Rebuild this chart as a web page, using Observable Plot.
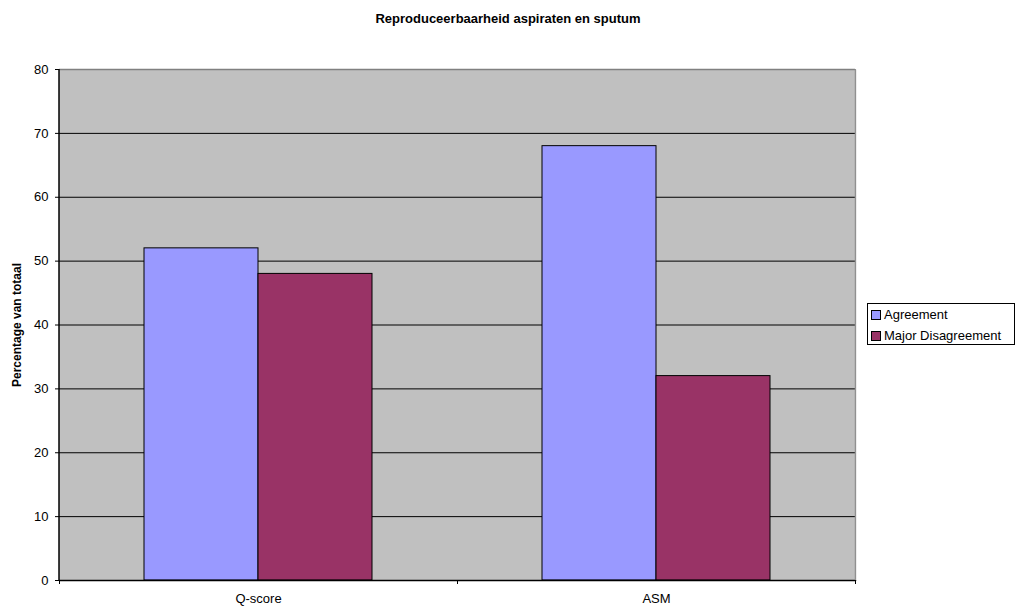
<!DOCTYPE html>
<html>
<head>
<meta charset="utf-8">
<script src="https://cdn.jsdelivr.net/npm/d3@7"></script>
<script src="https://cdn.jsdelivr.net/npm/@observablehq/plot@0.6"></script>
<style>
  body { margin: 0; background: #fff; font-family: "Liberation Sans", Arial, sans-serif; }
  #wrap { position: relative; width: 1016px; height: 606px; }
  #wrap svg { position: absolute; left: 0; top: 0; }
  #title { position: absolute; left: 0; width: 1016px; top: 11px; text-align: center; font-weight: bold; font-size: 13px; color: #000; }
  #ylabel { position: absolute; left: 17px; top: 325px; transform: translate(-50%, -50%) rotate(-90deg); font-weight: bold; font-size: 12px; white-space: nowrap; color: #000; }
  #legend { position: absolute; left: 867px; top: 303px; width: 146px; height: 40px; border: 1px solid #000; background: #fff; font-size: 13px; }
  #legend .item { position: absolute; left: 3px; height: 16px; line-height: 16px; white-space: nowrap; }
  #legend .sw { display: inline-block; width: 8px; height: 8px; border: 1px solid #000; margin-right: 3px; vertical-align: -1px; }
</style>
</head>
<body>
<div id="wrap">
  <div id="title"></div>
  <div id="ylabel"></div>
  <div id="legend"></div>
</div>
<script>
const titleText = "Reproduceerbaarheid aspiraten en sputum";
const yLabelText = "Percentage van totaal";
const categories = ["Q-score", "ASM"];
const seriesNames = ["Agreement", "Major Disagreement"];
const agreement = [52, 68];
const majorDisagreement = [48, 32];
const yTicks = [0, 10, 20, 30, 40, 50, 60, 70, 80];
const seriesColors = ["#9999FF", "#993366"];

const seriesValues = [agreement, majorDisagreement];
const rows = [];
categories.forEach((c, i) => {
  seriesNames.forEach((s, j) => rows.push({category: c, series: s, value: seriesValues[j][i]}));
});

document.getElementById("title").textContent = titleText;
document.getElementById("ylabel").textContent = yLabelText;
const legend = document.getElementById("legend");
seriesNames.forEach((s, j) => {
  const it = document.createElement("div");
  it.className = "item";
  it.style.top = (3 + j * 21) + "px";
  const sw = document.createElement("span");
  sw.className = "sw";
  sw.style.background = seriesColors[j];
  it.appendChild(sw);
  it.appendChild(document.createTextNode(s));
  legend.appendChild(it);
});

const chart = Plot.plot({
  width: 1016,
  height: 606,
  marginLeft: 59,
  marginRight: 161,
  marginTop: 69,
  marginBottom: 26,
  style: {fontFamily: "'Liberation Sans', Arial, sans-serif", fontSize: "13px", color: "#000", background: "transparent", overflow: "visible"},
  fx: {domain: categories, paddingInner: 0, paddingOuter: 0, axis: "bottom", tickSize: 0, tickPadding: 13, label: null},
  x: {domain: seriesNames, paddingInner: 0, paddingOuter: 0.745, axis: null},
  y: {domain: [0, 80], ticks: yTicks, tickSize: 4, tickPadding: 7, label: null, line: true},
  color: {domain: seriesNames, range: seriesColors},
  marks: [
    Plot.frame({fill: "#C0C0C0", stroke: "none", insetLeft: -1, insetRight: -1, shapeRendering: "crispEdges"}),
    Plot.ruleY(yTicks.filter(t => t > 0 && t < 80), {stroke: "#000", strokeWidth: 1}),
    Plot.ruleY([80], {stroke: "#808080", strokeWidth: 1.5}),
    Plot.barY(rows, {fx: "category", x: "series", y: "value", fill: "series", stroke: "#000", strokeWidth: 1}),
    Plot.ruleY([0], {stroke: "#000", strokeWidth: 1.5})
  ]
});
document.getElementById("wrap").appendChild(chart);

// plot-area decorations: white mask outside the plot edges, right border and category boundary ticks
const fxs = chart.scale("fx");
const ys = chart.scale("y");
const [x0, x1] = fxs.range;
const [yb, yt] = ys.range;
const svg = d3.select(chart);
svg.append("line").attr("x1", x1 + 0.5).attr("x2", x1 + 0.5).attr("y1", yt).attr("y2", yb)
  .attr("stroke", "#909090").attr("stroke-width", 1.5);
svg.append("rect").attr("x", x1 + 1.25).attr("y", yt - 2).attr("width", 3).attr("height", yb - yt + 2).attr("fill", "#fff");
svg.append("line").attr("x1", x0).attr("x2", x0).attr("y1", yt).attr("y2", yb)
  .attr("stroke", "#000").attr("stroke-width", 1.5);
[x0, (x0 + x1) / 2, x1].forEach(x => {
  svg.append("line").attr("x1", x + 0.5).attr("x2", x + 0.5).attr("y1", yb).attr("y2", yb + 4)
    .attr("stroke", "#000").attr("stroke-width", 1);
});
</script>
</body>
</html>
